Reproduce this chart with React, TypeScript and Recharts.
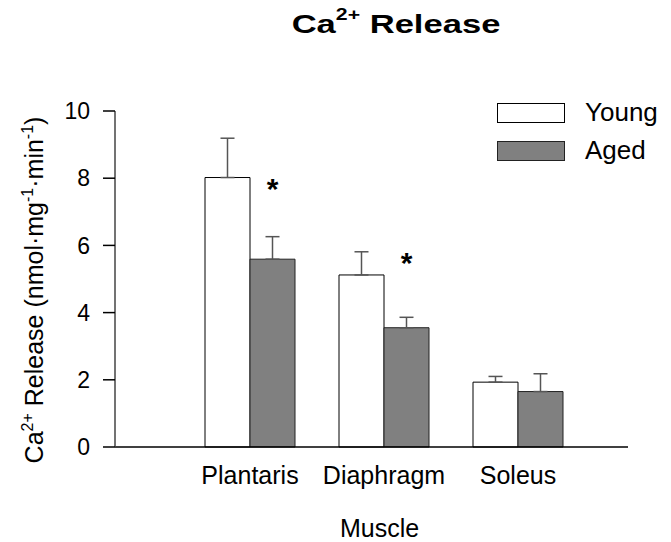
import React from 'react';
import { BarChart, Bar, XAxis, YAxis, ErrorBar, Legend, LabelList } from 'recharts';

const categories = ['Plantaris', 'Diaphragm', 'Soleus'];
const youngValues = [8.02, 5.12, 1.93];
const youngErrors = [1.17, 0.69, 0.17];
const agedValues = [5.59, 3.55, 1.65];
const agedErrors = [0.67, 0.31, 0.53];
// height (in data units) at which the significance asterisk is drawn
const significance: (number | null)[] = [7.89, 5.68, null];
const yTicks = [0, 2, 4, 6, 8, 10];
const seriesOrder = ['young', 'aged'];

const data = categories.map((c, i) => ({
  muscle: c,
  young: youngValues[i],
  youngErr: [0, youngErrors[i]],
  aged: agedValues[i],
  agedErr: [0, agedErrors[i]],
}));

const FONT = '"Liberation Sans", Arial, Helvetica, sans-serif';

const Star = (props: any) => {
  const { x, y, width, height, value, index } = props;
  const s = index != null ? significance[index] : null;
  if (s == null || !value) return null;
  const base = Number(y) + Number(height);
  const cy = base - (s * Number(height)) / Number(value);
  const fs = 30;
  return (
    <text x={Number(x) + Number(width) / 2} y={cy + 0.57 * fs} textAnchor="middle" fontSize={fs} fontWeight="bold" fontFamily={FONT} fill="#000">
      *
    </text>
  );
};

const YLabel = (props: any) => {
  const vb = props.viewBox || { x: 0, y: 0, width: 0, height: 0 };
  const cx = vb.x + 35;
  const cy = vb.y + vb.height / 2 + 11;
  const sup = 16;
  return (
    <text x={cx} y={cy} transform={`rotate(-90, ${cx}, ${cy})`} textAnchor="middle" fontSize={25} fontFamily={FONT} fill="#000">
      Ca
      <tspan dy={-10} fontSize={sup}>2+</tspan>
      <tspan dy={10}> Release (nmol·mg</tspan>
      <tspan dy={-10} fontSize={sup}>-1</tspan>
      <tspan dy={10}>·min</tspan>
      <tspan dy={-10} fontSize={sup}>-1</tspan>
      <tspan dy={10}>)</tspan>
    </text>
  );
};

const LegendContent = (props: any) => {
  const payload = [...(props.payload || [])].sort(
    (a: any, b: any) => seriesOrder.indexOf(String(a.dataKey)) - seriesOrder.indexOf(String(b.dataKey))
  );
  return (
    <svg width={186} height={76} style={{ display: 'block', overflow: 'visible' }}>
      {payload.map((e: any, i: number) => (
        <g key={i}>
          <rect x={0.5} y={0.5 + i * 38} width={67} height={19} fill={e.color} stroke={(e.payload && e.payload.stroke) || '#000'} />
          <text x={88} y={i * 38 + 18} fontSize={26} fontFamily={FONT} fill="#000">
            {e.value}
          </text>
        </g>
      ))}
    </svg>
  );
};

export default function App() {
  return (
    <div style={{ position: 'relative', width: 655, height: 534, fontFamily: FONT }}>
      <style>{`body{margin-bottom:0} .recharts-surface{overflow:visible}`}</style>
      <BarChart
        width={655}
        height={534}
        data={data}
        margin={{ top: 103, right: 35, bottom: 8, left: 0 }}
        barGap={0}
      >
        <XAxis
          dataKey="muscle"
          tickLine={false}
          axisLine={{ stroke: '#000', strokeWidth: 1.5 }}
          padding={{ left: 68, right: 43 }}
          height={87}
          tickMargin={13}
          tick={{ fontSize: 25, fill: '#000', fontFamily: FONT }}
          label={{ value: 'Muscle', position: 'insideBottom', offset: -3, dx: 8, fontSize: 25, fill: '#000', fontFamily: FONT }}
        />
        <YAxis
          domain={[0, 10]}
          ticks={yTicks}
          interval={0}
          width={107}
          tickSize={12}
          tickMargin={13}
          axisLine={{ stroke: '#444', strokeWidth: 1.5 }}
          tickLine={{ stroke: '#000', strokeWidth: 1.5 }}
          tick={{ fontSize: 23, fill: '#000', fontFamily: FONT }}
          label={{ content: YLabel }}
        />
        <Legend
          layout="vertical"
          align="center"
          verticalAlign="middle"
          itemSorter={null as any}
          wrapperStyle={{ top: 95, left: 489, width: 186, height: 76 }}
          content={LegendContent}
        />
        <Bar dataKey="young" name="Young" fill="#ffffff" stroke="#000" strokeWidth={1} barSize={45} isAnimationActive={false}>
          <ErrorBar dataKey="youngErr" width={7} stroke="#555" strokeWidth={1.5} />
        </Bar>
        <Bar dataKey="aged" name="Aged" fill="#808080" stroke="#222" strokeWidth={1} barSize={45} isAnimationActive={false}>
          <ErrorBar dataKey="agedErr" width={7} stroke="#555" strokeWidth={1.5} />
          <LabelList dataKey="aged" content={Star} />
        </Bar>
      </BarChart>
      <svg width={655} height={50} style={{ position: 'absolute', left: 0, top: 0, overflow: 'visible' }}>
        <text transform="translate(388 25.3) scale(1.33 1)" x={0} y={0} textAnchor="middle" fontSize={26} fontWeight="bold" fontFamily={FONT} fill="#000">
          Ca
          <tspan dy={-13} fontSize={16}>2+</tspan>
          <tspan dy={13}> Release</tspan>
        </text>
      </svg>
    </div>
  );
}
